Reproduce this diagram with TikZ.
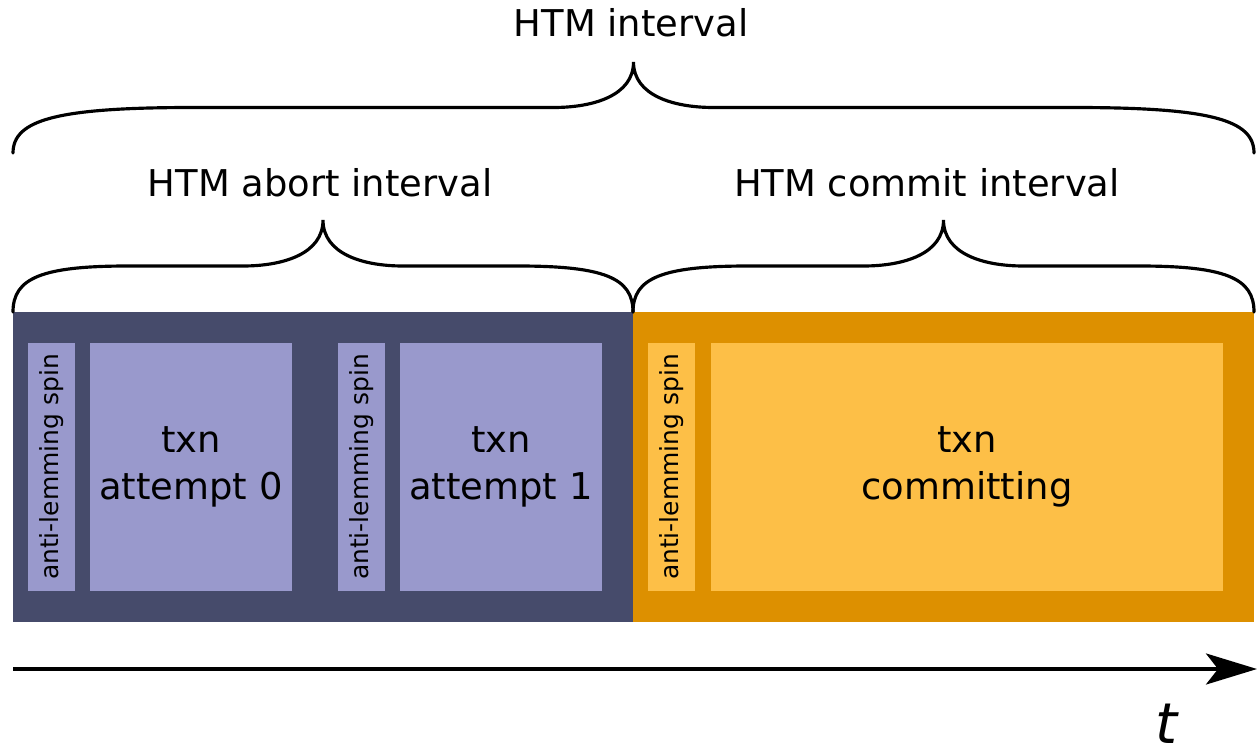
\documentclass[tikz,border=0pt]{standalone}
\usepackage{fontspec}
\setmainfont{DejaVu Sans}
\usepackage{tikz}
\usetikzlibrary{arrows.meta}

\definecolor{abortdark}{HTML}{464B6B}
\definecolor{abortlight}{HTML}{9999CC}
\definecolor{commitdark}{HTML}{DD9000}
\definecolor{commitlight}{HTML}{FDBF47}

% curly brace over an interval: x1, x2, y of the ends, y of the tip, width of the end curve
\newcommand{\intervalbrace}[5]{%
  \pgfmathsetmacro{\xm}{(#1+#2)/2}
  \pgfmathsetmacro{\yf}{(#3+#4)/2}
  \draw[brace line] (#1,#3) .. controls (#1,\yf+12) and (#1+0.25*#5,\yf) .. (#1+#5,\yf)
    -- (\xm-80,\yf) .. controls (\xm-40,\yf) and (\xm,\yf-12) .. (\xm,#4)
    .. controls (\xm,\yf-12) and (\xm+40,\yf) .. (\xm+80,\yf)
    -- (#2-#5,\yf) .. controls (#2-0.25*#5,\yf) and (#2,\yf+12) .. (#2,#3);
}

\begin{document}
\begin{tikzpicture}[x=0.02cm, y=-0.02cm,
      brace line/.style={line width=1.8pt, line cap=round},
      intlabel/.style={font=\fontsize{21}{27}\selectfont, anchor=base},
      regionbox/.style={inner sep=0pt, outer sep=0pt, align=center, font=\fontsize{21}{27}\selectfont},
      spin/.style={regionbox, rotate=90, minimum width=4.96cm, minimum height=0.94cm, font=\fontsize{14.2}{16}\selectfont},
      txn/.style={regionbox, minimum height=4.96cm, minimum width=4.04cm},
      time axis/.style={line width=2.3pt, -{Stealth[length=1.02cm, width=0.62cm, inset=0.24cm]}}
      ]
      \useasboundingbox (0,0) rectangle (1257,750);

      % regions
      \node[regionbox, fill=abortdark, minimum width=12.4cm, minimum height=6.2cm] (abort) at (323,467) {};
      \node[regionbox, fill=commitdark, minimum width=12.42cm, minimum height=6.2cm] (commit) at (943.5,467) {};

      % attempts
      \node[spin, fill=abortlight] (spin0) at (51.5,467) {anti-lemming spin};
      \node[txn, fill=abortlight] (attempt0) at (191,467) {txn\\attempt 0};
      \node[spin, fill=abortlight] (spin1) at (361.5,467) {anti-lemming spin};
      \node[txn, fill=abortlight] (attempt1) at (501,467) {txn\\attempt 1};
      \node[spin, fill=commitlight] (spin2) at (671.5,467) {anti-lemming spin};
      \node[txn, fill=commitlight, minimum width=10.24cm] (committing) at (967,467) {txn\\committing};

      % braces
      \intervalbrace{13}{1254}{153}{62}{180}
      \intervalbrace{13}{633}{312}{220}{115}
      \intervalbrace{633}{1254}{312}{220}{115}
      \node[intlabel] (htm) at (631,37) {HTM interval};
      \node[intlabel] (abortlabel) at (320,196) {HTM abort interval};
      \node[intlabel] (commitlabel) at (927,196) {HTM commit interval};

      % time
      \coordinate (tstart) at (13,669);
      \coordinate (tend) at (1257,669);
      \draw[time axis] (tstart) -- (tend);
      \node[font=\fontsize{32}{36}\selectfont\itshape, anchor=base, inner sep=0pt] (t) at (1167,743) {t};
    \end{tikzpicture}
\end{document}
